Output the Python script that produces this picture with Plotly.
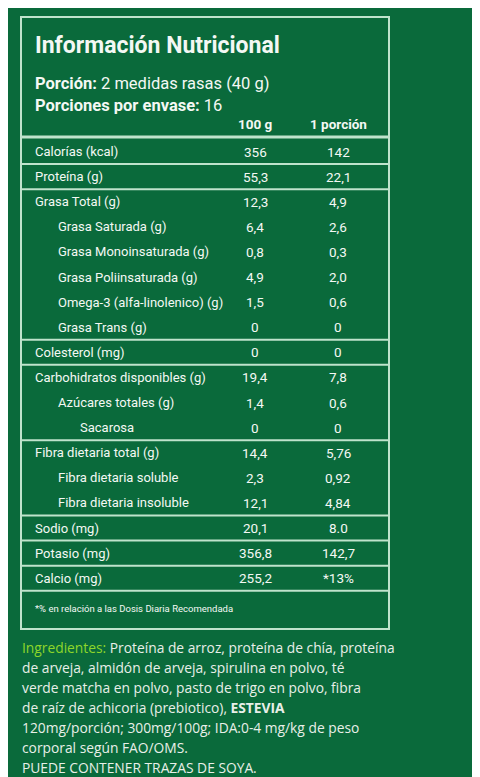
import plotly.graph_objects as go

# table data
nutrientes = ["Calorías (kcal)", "Proteína (g)", "Grasa Total (g)", "Grasa Saturada (g)",
              "Grasa Monoinsaturada (g)", "Grasa Poliinsaturada (g)", "Omega-3 (alfa-linolenico) (g)",
              "Grasa Trans (g)", "Colesterol (mg)", "Carbohidratos disponibles (g)",
              "Azúcares totales (g)", "Sacarosa", "Fibra dietaria total (g)",
              "Fibra dietaria soluble", "Fibra dietaria insoluble", "Sodio (mg)",
              "Potasio (mg)", "Calcio (mg)"]
por_100g = ["356", "55,3", "12,3", "6,4", "0,8", "4,9", "1,5", "0", "0", "19,4",
            "1,4", "0", "14,4", "2,3", "12,1", "20,1", "356,8", "255,2"]
por_porcion = ["142", "22,1", "4,9", "2,6", "0,3", "2,0", "0,6", "0", "0", "7,8",
               "0,6", "0", "5,76", "0,92", "4,84", "8.0", "142,7", "*13%"]
sangria = [0, 0, 0, 1, 1, 1, 1, 1, 0, 0, 1, 2, 0, 1, 1, 0, 0, 0]
# rows after which a separator line is drawn
separadores = [0, 1, 7, 8, 11, 14, 15, 16, 17]

ingredientes = [
    "<span style='color:#8ed62a'>Ingredientes:</span> Proteína de arroz, proteína de chía, proteína",
    "de arveja, almidón de arveja, spirulina en polvo, té",
    "verde matcha en polvo, pasto de trigo en polvo, fibra",
    "de raíz de achicoria (prebiotico), <b>ESTEVIA</b>",
    "120mg/porción; 300mg/100g; IDA:0-4 mg/kg de peso",
    "corporal según FAO/OMS.",
    "PUEDE CONTENER TRAZAS DE SOYA.",
]

verde = "#0a6a3b"
linea = "#bfe3cc"
blanco = "#f4f8f4"
narrow = "Roboto, Liberation Sans Narrow, sans-serif"

fila_y0 = 143.5
fila_h = 25.1
x_ind = [25, 48, 70]

fig = go.Figure()
ann = []
shapes = []

ann.append(dict(x=25, y=37, text="<b>Información Nutricional</b>", font=dict(size=23)))
ann.append(dict(x=25, y=75, text="<b>Porción:</b> 2 medidas rasas (40 g)", font=dict(size=16.5)))
ann.append(dict(x=25, y=97, text="<b>Porciones por envase:</b> 16", font=dict(size=16.5)))
ann.append(dict(x=247, y=116, text="<b>100 g</b>", xanchor="center", font=dict(size=13.5)))
ann.append(dict(x=330, y=116, text="<b>1 porción</b>", xanchor="center", font=dict(size=13.5)))

for i, nombre in enumerate(nutrientes):
    y = fila_y0 + i * fila_h
    ann.append(dict(x=x_ind[sangria[i]], y=y, text=nombre, font=dict(size=13)))
    ann.append(dict(x=247, y=y, text=por_100g[i], xanchor="center", font=dict(size=13.5)))
    ann.append(dict(x=330, y=y, text=por_porcion[i], xanchor="center", font=dict(size=13.5)))

for i in separadores:
    y = fila_y0 + (i + 0.5) * fila_h
    shapes.append(dict(type="line", x0=13, x1=381, y0=y, y1=y, line=dict(color=linea, width=2)))

shapes.append(dict(type="line", x0=13, x1=381, y0=129, y1=129, line=dict(color=linea, width=3)))
shapes.append(dict(type="rect", x0=13, x1=381, y0=9, y1=621, line=dict(color=linea, width=2)))

ann.append(dict(x=25, y=600, text="*% en relación a las Dosis Diaria Recomendada", font=dict(size=9.5)))

for i, t in enumerate(ingredientes):
    ann.append(dict(x=12, y=639 + i * 20.1, text=t,
                    font=dict(size=13.8, family="Open Sans, sans-serif", color="#e8efe8")))

for a in ann:
    a.setdefault("xanchor", "left")
    a["yanchor"] = "middle"
    a["showarrow"] = False
    a["xref"] = "x"
    a["yref"] = "y"
    f = a["font"]
    f.setdefault("family", narrow)
    f.setdefault("color", blanco)

fig.update_layout(
    width=480, height=777,
    margin=dict(l=0, r=0, t=0, b=0),
    paper_bgcolor=verde, plot_bgcolor=verde,
    xaxis=dict(range=[0, 480], visible=False, fixedrange=True),
    yaxis=dict(range=[777, 0], visible=False, fixedrange=True),
    annotations=ann, shapes=shapes, showlegend=False,
)

fig.write_html("out.html", config={"displayModeBar": False})
